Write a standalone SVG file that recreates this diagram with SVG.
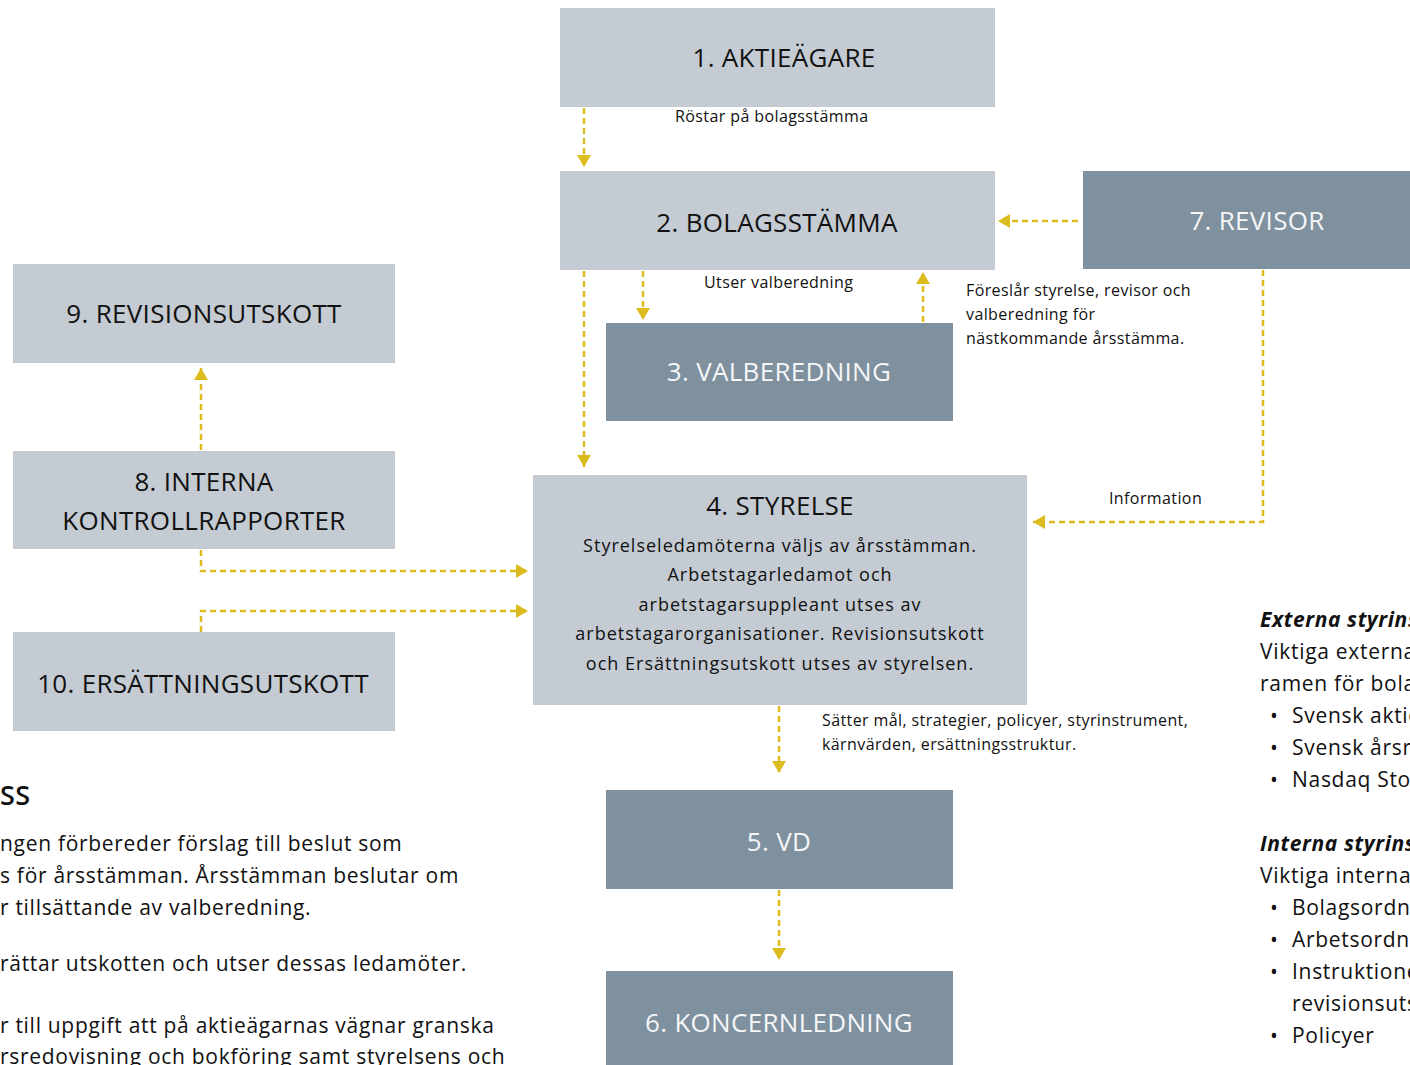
<svg xmlns="http://www.w3.org/2000/svg" width="1410" height="1065" viewBox="0 0 1410 1065">
<style>
.light{fill:#c4cbd2}
.dark{fill:#7f909e}
.t{font-family:"Open Sans","Liberation Sans",sans-serif;font-size:26px;letter-spacing:0.3px;text-anchor:middle;fill:#111}
.tw{font-family:"Open Sans","Liberation Sans",sans-serif;font-size:26px;letter-spacing:0.3px;text-anchor:middle;fill:#f4f6f8}
.lbl{font-family:"Open Sans","Liberation Sans",sans-serif;font-size:16px;letter-spacing:0.4px;fill:#111}
.body{font-family:"Open Sans","Liberation Sans",sans-serif;font-size:18px;letter-spacing:1px;fill:#111;text-anchor:middle}
.side{font-family:"Open Sans","Liberation Sans",sans-serif;font-size:21px;letter-spacing:0.7px;fill:#111}
.sideb{font-family:"Open Sans","Liberation Sans",sans-serif;font-size:21px;letter-spacing:0.6px;fill:#111;font-weight:bold;font-style:italic}
.head{font-family:"Open Sans","Liberation Sans",sans-serif;font-size:27px;font-weight:600;letter-spacing:0.5px;fill:#111}
.c{fill:none;stroke:#dcbb1e;stroke-width:2.5;stroke-dasharray:6 4;marker-end:url(#ah)}
</style>
<defs>
<marker id="ah" markerUnits="userSpaceOnUse" markerWidth="14" markerHeight="14" refX="12" refY="7" orient="auto" viewBox="0 0 12 14">
<path d="M0,0 L12,7 L0,14 z" fill="#dcbb1e"/>
</marker>
</defs>
<rect width="1410" height="1065" fill="#ffffff"/>

<g id="connectors">
<path class="c" d="M584,108 V167"/>
<path class="c" d="M584,271 V467"/>
<path class="c" d="M643,271 V320"/>
<path class="c" d="M923,322 V272"/>
<path class="c" d="M1078,221 H998"/>
<path class="c" d="M1263,270 V522 H1033"/>
<path class="c" d="M201,450 V368"/>
<path class="c" d="M201,550 V571 H528"/>
<path class="c" d="M201,632 V611 H528"/>
<path class="c" d="M779,706 V773"/>
<path class="c" d="M779,890 V960"/>
</g>

<g id="n1"><rect class="light" x="560" y="8" width="435" height="99"/><text class="t" x="784" y="67">1. AKTIEÄGARE</text></g>
<g id="n2"><rect class="light" x="560" y="171" width="435" height="99"/><text class="t" x="777" y="232">2. BOLAGSSTÄMMA</text></g>
<g id="n3"><rect class="dark" x="606" y="323" width="347" height="98"/><text class="tw" x="779" y="381">3. VALBEREDNING</text></g>
<g id="n4"><rect class="light" x="533" y="475" width="494" height="230"/>
<text class="t" x="780" y="515">4. STYRELSE</text>
<text class="body" x="780" y="552">Styrelseledamöterna väljs av årsstämman.</text>
<text class="body" x="780" y="581">Arbetstagarledamot och</text>
<text class="body" x="780" y="611">arbetstagarsuppleant utses av</text>
<text class="body" x="780" y="640">arbetstagarorganisationer. Revisionsutskott</text>
<text class="body" x="780" y="670">och Ersättningsutskott utses av styrelsen.</text>
</g>
<g id="n5"><rect class="dark" x="606" y="790" width="347" height="99"/><text class="tw" x="779" y="851">5. VD</text></g>
<g id="n6"><rect class="dark" x="606" y="971" width="347" height="94"/><text class="tw" x="779" y="1032">6. KONCERNLEDNING</text></g>
<g id="n7"><rect class="dark" x="1083" y="171" width="327" height="98"/><text class="tw" x="1257" y="230">7. REVISOR</text></g>
<g id="n8"><rect class="light" x="13" y="451" width="382" height="98"/><text class="t" x="204" y="491">8. INTERNA</text><text class="t" x="204" y="530">KONTROLLRAPPORTER</text></g>
<g id="n9"><rect class="light" x="13" y="264" width="382" height="99"/><text class="t" x="204" y="323">9. REVISIONSUTSKOTT</text></g>
<g id="n10"><rect class="light" x="13" y="632" width="382" height="99"/><text class="t" x="203" y="693">10. ERSÄTTNINGSUTSKOTT</text></g>

<g id="labels">
<text class="lbl" x="675" y="122">Röstar på bolagsstämma</text>
<text class="lbl" x="704" y="288">Utser valberedning</text>
<text class="lbl" x="966" y="296">Föreslår styrelse, revisor och</text>
<text class="lbl" x="966" y="320">valberedning för</text>
<text class="lbl" x="966" y="344">nästkommande årsstämma.</text>
<text class="lbl" x="1109" y="504">Information</text>
<text class="lbl" x="822" y="726">Sätter mål, strategier, policyer, styrinstrument,</text>
<text class="lbl" x="822" y="750">kärnvärden, ersättningsstruktur.</text>
</g>

<g id="left-text">
<text class="head" x="0" y="805">SS</text>
<text class="side" x="0" y="851">ngen förbereder förslag till beslut som</text>
<text class="side" x="0" y="883">s för årsstämman. Årsstämman beslutar om</text>
<text class="side" x="0" y="915">r tillsättande av valberedning.</text>
<text class="side" x="0" y="971">rättar utskotten och utser dessas ledamöter.</text>
<text class="side" x="0" y="1033">r till uppgift att på aktieägarnas vägnar granska</text>
<text class="side" x="0" y="1064">rsredovisning och bokföring samt styrelsens och</text>
</g>

<g id="right-text">
<text class="sideb" x="1260" y="627">Externa styrins</text>
<text class="side" x="1260" y="659">Viktiga externa</text>
<text class="side" x="1260" y="691">ramen för bola</text>
<text class="side" x="1270" y="723">•</text><text class="side" x="1292" y="723">Svensk aktie</text>
<text class="side" x="1270" y="755">•</text><text class="side" x="1292" y="755">Svensk årsr</text>
<text class="side" x="1270" y="787">•</text><text class="side" x="1292" y="787">Nasdaq Sto</text>
<text class="sideb" x="1260" y="851">Interna styrins</text>
<text class="side" x="1260" y="883">Viktiga interna</text>
<text class="side" x="1270" y="915">•</text><text class="side" x="1292" y="915">Bolagsordn</text>
<text class="side" x="1270" y="947">•</text><text class="side" x="1292" y="947">Arbetsordn</text>
<text class="side" x="1270" y="979">•</text><text class="side" x="1292" y="979">Instruktione</text>
<text class="side" x="1292" y="1011">revisionsuts</text>
<text class="side" x="1270" y="1043">•</text><text class="side" x="1292" y="1043">Policyer</text>
</g>
</svg>
